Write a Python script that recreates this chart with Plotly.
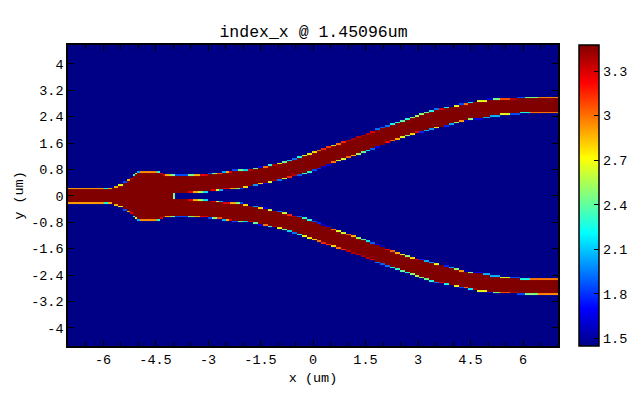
import numpy as np
import plotly.graph_objects as go

TITLE = "index_x @ 1.45096um"
INDEX_MIN = 1.45
INDEX_MAX = 3.475
X_TICKS = [-6, -4.5, -3, -1.5, 0, 1.5, 3, 4.5, 6]
X_MINOR = [-7, -6.5, -5.5, -5, -4, -3.5, -2.5, -2, -1, -0.5, 0.5, 1, 2, 2.5, 3.5, 4, 5, 5.5, 6.5, 7]
X_LABELS = ["-6", "-4.5", "-3", "-1.5", "0", "1.5", "3", "4.5", "6"]
Y_TICKS = [-4, -3.2, -2.4, -1.6, -0.8, 0, 0.8, 1.6, 2.4, 3.2, 4]
Y_LABELS = ["-4", "-3.2", "-2.4", "-1.6", "-0.8", "0", "0.8", "1.6", "2.4", "3.2", "4"]
CB_TICKS = [1.5, 1.8, 2.1, 2.4, 2.7, 3, 3.3]
CB_LABELS = ["1.5", "1.8", "2.1", "2.4", "2.7", "3", "3.3"]

# Outer edge of the upper branch (mirrored for the lower branch): run start x, edge y
OUTER_X = [-7, -5.97, -5.86, -5.74, -5.69, -5.57, -5.43, -5.31, -5.23, -5.14,
           -5.09, -5.03, -4.94, -4.46, -4.37, -4.29, -4.23, -4.09, -3.94, -3.57,
           -3.40, -3.23, -3.00, -2.89, -2.74, -2.60, -2.49, -2.40, -2.31, -2.14,
           -2.00, -1.86, -1.72, -1.58, -1.44, -1.30, -1.16, -1.02, -0.88, -0.74,
           -0.60, -0.46, -0.32, -0.18, -0.04, 0.10, 0.24, 0.38, 0.52, 0.66,
           0.80, 0.94, 1.08, 1.22, 1.36, 1.50, 1.64, 1.78, 1.92, 2.06,
           2.20, 2.34, 2.48, 2.62, 2.76, 2.90, 3.04, 3.18, 3.32, 3.46,
           3.60, 3.74, 3.88, 4.02, 4.16, 4.30, 4.44, 4.58, 4.69, 4.97,
           5.15, 5.34, 5.63, 5.83, 6.06, 6.43]
OUTER_Y = [0.236, 0.22, 0.235, 0.25, 0.285, 0.33, 0.41, 0.485, 0.545, 0.62,
           0.68, 0.715, 0.737, 0.72, 0.695, 0.645, 0.635, 0.625, 0.61, 0.625,
           0.635, 0.645, 0.66, 0.675, 0.69, 0.715, 0.735, 0.745, 0.76, 0.775,
           0.767, 0.797, 0.824, 0.855, 0.888, 0.921, 0.948, 0.982, 1.024, 1.067,
           1.112, 1.170, 1.230, 1.282, 1.333, 1.388, 1.442, 1.491, 1.533, 1.588,
           1.642, 1.697, 1.748, 1.797, 1.848, 1.897, 1.945, 2.012, 2.061, 2.112,
           2.170, 2.221, 2.273, 2.321, 2.376, 2.427, 2.476, 2.524, 2.570, 2.612,
           2.645, 2.670, 2.700, 2.730, 2.760, 2.788, 2.818, 2.848, 2.88, 2.905,
           2.925, 2.94, 2.947, 2.96, 2.975, 2.987]

# Inner edge of the upper branch: run start x, edge y
INNER_X = [-7, -4.00, -3.94, -3.57, -3.43, -3.29, -3.14, -3.00, -2.91, -2.77,
           -2.69, -2.57, -2.37, -2.20, -2.09,
           -2.00, -1.86, -1.72, -1.58, -1.44, -1.30, -1.16, -1.02, -0.88, -0.74,
           -0.60, -0.46, -0.32, -0.18, -0.04, 0.10, 0.24, 0.38, 0.52, 0.66,
           0.80, 0.94, 1.08, 1.22, 1.36, 1.50, 1.64, 1.78, 1.92, 2.06,
           2.20, 2.34, 2.48, 2.62, 2.76, 2.90, 3.04, 3.18, 3.32, 3.46,
           3.60, 3.74, 3.88, 4.02, 4.16, 4.30, 4.44, 4.58, 4.86, 5.06,
           5.34, 5.63, 5.91, 6.20]
INNER_Y = [0, 0.10, 0.10, 0.105, 0.115, 0.1225, 0.1325, 0.15, 0.155, 0.17,
           0.185, 0.205, 0.215, 0.225, 0.24,
           0.267, 0.300, 0.336, 0.367, 0.394, 0.421, 0.452, 0.488, 0.521, 0.558,
           0.603, 0.639, 0.679, 0.730, 0.790, 0.842, 0.897, 0.945, 1.012, 1.070,
           1.121, 1.161, 1.215, 1.273, 1.327, 1.382, 1.439, 1.494, 1.548, 1.606,
           1.661, 1.715, 1.770, 1.824, 1.867, 1.906, 1.942, 1.985, 2.036, 2.070,
           2.100, 2.142, 2.185, 2.224, 2.264, 2.297, 2.324, 2.345, 2.385, 2.435,
           2.47, 2.49, 2.53, 2.512]

GAP_CAP_X = [-4.00, -3.94]
GAP_CAP_INDEX = 2.45

JET = [[0, "rgb(0,0,135)"], [0.125, "rgb(0,0,255)"], [0.375, "rgb(0,255,255)"],
       [0.625, "rgb(255,255,0)"], [0.875, "rgb(255,0,0)"], [1, "rgb(128,0,0)"]]

assert len(OUTER_X) == len(OUTER_Y) and len(INNER_X) == len(INNER_Y)

# Raster cells: columns are the measured runs, rows the 0.05 um mesh
x_edges = np.array(sorted(set(OUTER_X) | set(INNER_X) | {7.0}))
y_edges = np.arange(-92, 93) * 0.05
x_left = x_edges[:-1]
z = np.full((len(y_edges) - 1, len(x_left)), INDEX_MIN)
low, high = y_edges[:-1], y_edges[1:]
for j, xl in enumerate(x_left):
    outer = OUTER_Y[np.searchsorted(OUTER_X, xl + 1e-9) - 1]
    inner = INNER_Y[np.searchsorted(INNER_X, xl + 1e-9) - 1]
    upper = np.clip(np.minimum(high, outer) - np.maximum(low, inner), 0, None)
    lower = np.clip(np.minimum(high, -inner) - np.maximum(low, -outer), 0, None)
    z[:, j] = INDEX_MIN + (upper + lower) / 0.05 * (INDEX_MAX - INDEX_MIN)
    if GAP_CAP_X[0] <= xl < GAP_CAP_X[1]:
        z[(high <= inner + 1e-9) & (low >= -inner - 1e-9), j] = GAP_CAP_INDEX

FONT = "Liberation Mono"
fig = go.Figure(go.Heatmap(
    x=x_edges, y=y_edges, z=z, zmin=INDEX_MIN, zmax=INDEX_MAX, colorscale=JET,
    hoverinfo="skip",
    colorbar=dict(
        x=(579 - 68) / 490, xref="paper", xanchor="left", xpad=0, ypad=0,
        y=0.5, yanchor="middle", len=1, lenmode="fraction",
        thickness=20, thicknessmode="pixels",
        outlinecolor="black", outlinewidth=1.5,
        tickmode="array", tickvals=CB_TICKS, ticktext=CB_LABELS,
        ticks="inside", ticklen=5, tickwidth=1, tickcolor="black",
        tickfont=dict(family=FONT, size=13.5, color="black"),
    ),
))
axis_common = dict(
    showgrid=False, zeroline=False, showline=True, linecolor="black", linewidth=1.5,
    mirror="allticks", ticks="inside", ticklen=6, tickwidth=1, tickcolor="black",
    tickmode="array", tickfont=dict(family=FONT, size=13.5, color="black"),
)
fig.update_layout(
    width=632, height=395, autosize=False,
    margin=dict(l=60, r=82, t=37, b=57, autoexpand=False),
    paper_bgcolor="white", plot_bgcolor="white",
    title=dict(text=TITLE, x=(305.5 / 632), xanchor="center", y=(395 - 23.5) / 395,
               yanchor="middle", font=dict(family=FONT, size=16.5, color="black")),
    xaxis=dict(range=[-7, 7], tickvals=X_TICKS, ticktext=X_LABELS,
               title=dict(text="x (um)", standoff=6, font=dict(family=FONT, size=13.5, color="black")),
               minor=dict(tickmode="array", tickvals=X_MINOR, ticks="inside", ticklen=4,
                          tickwidth=1, tickcolor="black", showgrid=False),
               **axis_common),
    yaxis=dict(range=[-4.55, 4.57], tickvals=Y_TICKS, ticktext=Y_LABELS,
               title=dict(text="y (um)", standoff=4, font=dict(family=FONT, size=13.5, color="black")),
               **axis_common),
)
fig.write_html("out.html")
